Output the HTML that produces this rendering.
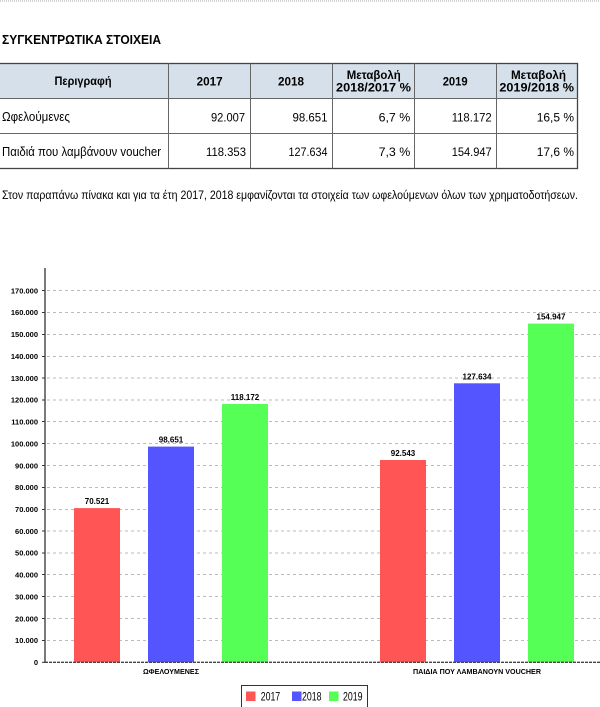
<!DOCTYPE html>
<html><head><meta charset="utf-8"><style>
html,body{margin:0;padding:0;background:#fff;}
svg{display:block;}
text{font-family:"Liberation Sans","DejaVu Sans",sans-serif;fill:#000;}
</style></head><body>
<svg width="600" height="707" viewBox="0 0 600 707" xmlns="http://www.w3.org/2000/svg">
<rect width="600" height="707" fill="#fff"/>
<line x1="0" y1="1" x2="600" y2="1" stroke="#aaa" stroke-width="1" stroke-dasharray="1,1"/>
<text x="2" y="44" font-size="12.5" font-weight="bold" textLength="159" lengthAdjust="spacingAndGlyphs">ΣΥΓΚΕΝΤΡΩΤΙΚΑ ΣΤΟΙΧΕΙΑ</text>

<!-- table -->
<rect x="-1" y="63.5" width="579" height="35" fill="#d6e0ea"/>
<g stroke="#666" stroke-width="1" fill="none">
<rect x="-1" y="63.5" width="578.5" height="105" stroke="#444" stroke-width="1.3"/>
<line x1="-1" y1="98.5" x2="578" y2="98.5"/>
<line x1="-1" y1="133.5" x2="578" y2="133.5"/>
<line x1="168.5" y1="63.5" x2="168.5" y2="168.5"/>
<line x1="250.5" y1="63.5" x2="250.5" y2="168.5"/>
<line x1="332.5" y1="63.5" x2="332.5" y2="168.5"/>
<line x1="414.5" y1="63.5" x2="414.5" y2="168.5"/>
<line x1="496.5" y1="63.5" x2="496.5" y2="168.5"/>
</g>
<g font-size="11.5" font-weight="bold" text-anchor="middle">
<text x="83" y="85" textLength="57" lengthAdjust="spacingAndGlyphs">Περιγραφή</text>
<text x="209.7" y="85.5" textLength="26" lengthAdjust="spacingAndGlyphs">2017</text>
<text x="291" y="85.5" textLength="26" lengthAdjust="spacingAndGlyphs">2018</text>
<text x="373.7" y="79" textLength="54" lengthAdjust="spacingAndGlyphs">Μεταβολή</text>
<text x="373.5" y="91.7" textLength="75" lengthAdjust="spacingAndGlyphs">2018/2017 %</text>
<text x="455.2" y="85.5" textLength="25" lengthAdjust="spacingAndGlyphs">2019</text>
<text x="538.5" y="79" textLength="55" lengthAdjust="spacingAndGlyphs">Μεταβολή</text>
<text x="536.7" y="91.7" textLength="74.7" lengthAdjust="spacingAndGlyphs">2019/2018 %</text>
</g>
<g font-size="13">
<text x="2" y="121" textLength="68" lengthAdjust="spacingAndGlyphs">Ωφελούμενες</text>
<text x="2" y="156" textLength="159" lengthAdjust="spacingAndGlyphs">Παιδιά που λαμβάνουν voucher</text>
</g>
<g font-size="12.2" text-anchor="end">
<text x="245" y="121.5" textLength="34" lengthAdjust="spacingAndGlyphs">92.007</text>
<text x="327.5" y="121.5" textLength="35" lengthAdjust="spacingAndGlyphs">98.651</text>
<text x="410.3" y="121.5" textLength="31.7" lengthAdjust="spacingAndGlyphs">6,7 %</text>
<text x="491.7" y="121.5" textLength="40" lengthAdjust="spacingAndGlyphs">118.172</text>
<text x="574" y="121.5" textLength="37.3" lengthAdjust="spacingAndGlyphs">16,5 %</text>
<text x="246" y="156" textLength="40" lengthAdjust="spacingAndGlyphs">118.353</text>
<text x="327.5" y="156" textLength="39" lengthAdjust="spacingAndGlyphs">127.634</text>
<text x="410.3" y="156" textLength="31.7" lengthAdjust="spacingAndGlyphs">7,3 %</text>
<text x="491.7" y="156" textLength="40" lengthAdjust="spacingAndGlyphs">154.947</text>
<text x="574" y="156" textLength="37.3" lengthAdjust="spacingAndGlyphs">17,6 %</text>
</g>
<text x="2" y="198.8" font-size="12" textLength="576" lengthAdjust="spacingAndGlyphs">Στον παραπάνω πίνακα και για τα έτη 2017, 2018 εμφανίζονται τα στοιχεία των ωφελούμενων όλων των χρηματοδοτήσεων.</text>

<!-- chart grid -->
<g stroke="#bbb" stroke-width="1" stroke-dasharray="3,3">
<line x1="47" y1="640.5" x2="600" y2="640.5"/>
<line x1="47" y1="618.5" x2="600" y2="618.5"/>
<line x1="47" y1="596.5" x2="600" y2="596.5"/>
<line x1="47" y1="574.5" x2="600" y2="574.5"/>
<line x1="47" y1="553" x2="600" y2="553"/>
<line x1="47" y1="531" x2="600" y2="531"/>
<line x1="47" y1="509.5" x2="600" y2="509.5"/>
<line x1="47" y1="487.5" x2="600" y2="487.5"/>
<line x1="47" y1="465.5" x2="600" y2="465.5"/>
<line x1="47" y1="443.5" x2="600" y2="443.5"/>
<line x1="47" y1="421.5" x2="600" y2="421.5"/>
<line x1="47" y1="400" x2="600" y2="400"/>
<line x1="47" y1="378" x2="600" y2="378"/>
<line x1="47" y1="356.5" x2="600" y2="356.5"/>
<line x1="47" y1="334.5" x2="600" y2="334.5"/>
<line x1="47" y1="312.5" x2="600" y2="312.5"/>
<line x1="47" y1="290.5" x2="600" y2="290.5"/>
</g>
<!-- ticks -->
<g stroke="#333" stroke-width="1">
<line x1="42" y1="662.3" x2="45" y2="662.3"/>
<line x1="42" y1="640.5" x2="45" y2="640.5"/>
<line x1="42" y1="618.5" x2="45" y2="618.5"/>
<line x1="42" y1="596.5" x2="45" y2="596.5"/>
<line x1="42" y1="574.5" x2="45" y2="574.5"/>
<line x1="42" y1="553" x2="45" y2="553"/>
<line x1="42" y1="531" x2="45" y2="531"/>
<line x1="42" y1="509.5" x2="45" y2="509.5"/>
<line x1="42" y1="487.5" x2="45" y2="487.5"/>
<line x1="42" y1="465.5" x2="45" y2="465.5"/>
<line x1="42" y1="443.5" x2="45" y2="443.5"/>
<line x1="42" y1="421.5" x2="45" y2="421.5"/>
<line x1="42" y1="400" x2="45" y2="400"/>
<line x1="42" y1="378" x2="45" y2="378"/>
<line x1="42" y1="356.5" x2="45" y2="356.5"/>
<line x1="42" y1="334.5" x2="45" y2="334.5"/>
<line x1="42" y1="312.5" x2="45" y2="312.5"/>
<line x1="42" y1="290.5" x2="45" y2="290.5"/>
</g>
<g font-size="7.5" font-weight="bold" text-anchor="end">
<text x="38" y="665">0</text>
<text x="38" y="643.2">10.000</text>
<text x="38" y="621.3">20.000</text>
<text x="38" y="599.4">30.000</text>
<text x="38" y="577.6">40.000</text>
<text x="38" y="555.7">50.000</text>
<text x="38" y="533.8">60.000</text>
<text x="38" y="512">70.000</text>
<text x="38" y="490.1">80.000</text>
<text x="38" y="468.3">90.000</text>
<text x="38" y="446.4">100.000</text>
<text x="38" y="424.5">110.000</text>
<text x="38" y="402.7">120.000</text>
<text x="38" y="380.8">130.000</text>
<text x="38" y="359">140.000</text>
<text x="38" y="337.1">150.000</text>
<text x="38" y="315.2">160.000</text>
<text x="38" y="293.4">170.000</text>
</g>

<!-- bars -->
<rect x="74" y="508.1" width="46" height="154.2" fill="#ff5555"/>
<rect x="148" y="446.6" width="46" height="215.7" fill="#5555ff"/>
<rect x="222" y="404" width="46" height="258.3" fill="#55ff55"/>
<rect x="380" y="460" width="46" height="202.3" fill="#ff5555"/>
<rect x="454" y="383.3" width="46" height="279" fill="#5555ff"/>
<rect x="528" y="323.6" width="46" height="338.7" fill="#55ff55"/>

<g font-size="8" font-weight="bold" text-anchor="middle">
<text x="97" y="504">70.521</text>
<text x="171" y="442.5">98.651</text>
<text x="245" y="400">118.172</text>
<text x="403" y="456">92.543</text>
<text x="477" y="379.3">127.634</text>
<text x="551" y="319.4">154.947</text>
</g>

<!-- axes -->
<line x1="45" y1="268" x2="45" y2="663" stroke="#333" stroke-width="1.3"/>
<line x1="45" y1="662.3" x2="600" y2="662.3" stroke="#444" stroke-width="1.3" stroke-dasharray="3,1"/>

<g font-size="7.5" font-weight="bold" text-anchor="middle">
<text x="171" y="674" textLength="56" lengthAdjust="spacingAndGlyphs">ΩΦΕΛΟΥΜΕΝΕΣ</text>
<text x="477" y="674" textLength="128" lengthAdjust="spacingAndGlyphs">ΠΑΙΔΙΑ ΠΟΥ ΛΑΜΒΑΝΟΥΝ VOUCHER</text>
</g>

<!-- legend -->
<rect x="241.5" y="685.5" width="126" height="22" fill="#fff" stroke="#333" stroke-width="1"/>
<rect x="246" y="691.5" width="9.5" height="9.5" fill="#ff5555"/>
<rect x="292" y="691.5" width="9.5" height="9.5" fill="#5555ff"/>
<rect x="329" y="691.5" width="9.5" height="9.5" fill="#55ff55"/>
<g font-size="12">
<text x="260.7" y="700.5" textLength="19.5" lengthAdjust="spacingAndGlyphs">2017</text>
<text x="302" y="700.5" textLength="19.5" lengthAdjust="spacingAndGlyphs">2018</text>
<text x="343" y="700.5" textLength="19.5" lengthAdjust="spacingAndGlyphs">2019</text>
</g>
</svg>
</body></html>
